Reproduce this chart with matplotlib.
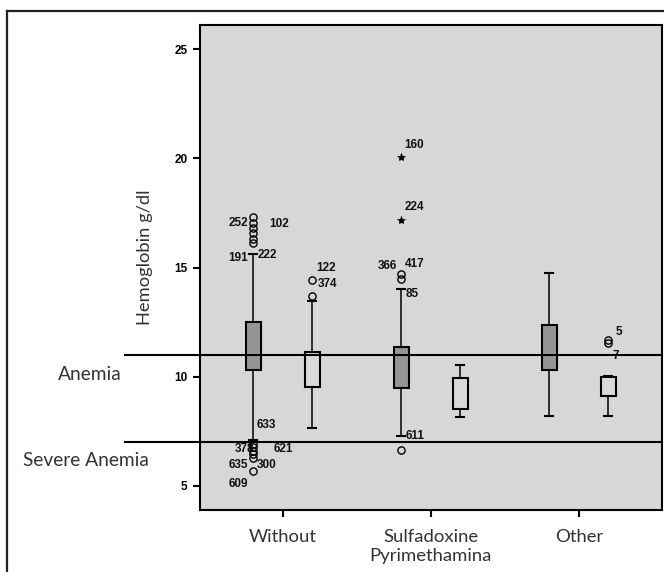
import matplotlib
matplotlib.use('Agg')
import matplotlib.pyplot as plt
from matplotlib.lines import Line2D

# ---------------- data ----------------
categories = ['Without', 'Sulfadoxine\nPyrimethamina', 'Other']
y_ticks = [5, 10, 15, 20, 25]
anemia_level = 11
severe_anemia_level = 7

# dark series
dark_q1 = [10.31, 9.50, 10.31]
dark_med = [11.30, 10.40, 11.30]
dark_q3 = [12.50, 11.36, 12.35]
dark_lo = [7.10, 7.28, 8.20]
dark_hi = [15.62, 14.03, 14.73]
dark_outliers = [[17.31, 17.04, 16.81, 16.58, 16.32, 16.10,
                  6.92, 6.78, 6.62, 6.46, 6.28, 5.70],
                 [14.68, 14.48, 6.64],
                 []]
dark_extremes = [[], [20.08, 17.19], []]

# light series
light_q1 = [9.55, 8.52, 9.12]
light_med = [10.30, 9.20, 9.60]
light_q3 = [11.13, 9.95, 9.97]
light_lo = [7.65, 8.15, 8.20]
light_hi = [13.47, 10.54, 10.03]
light_outliers = [[14.43, 13.70], [], [11.66, 11.56]]

# case labels: (series, group, value, text)
case_labels = [
    ('dark', 0, 17.31, '252'), ('dark', 0, 17.31, '102'),
    ('dark', 0, 15.62, '191'), ('dark', 0, 15.62, '222'),
    ('dark', 0, 7.10, '633'), ('dark', 0, 6.92, '378'),
    ('dark', 0, 6.92, '621'), ('dark', 0, 6.28, '635'),
    ('dark', 0, 6.28, '300'), ('dark', 0, 5.70, '609'),
    ('light', 0, 14.43, '122'), ('light', 0, 14.43, '374'),
    ('dark', 1, 20.08, '160'), ('dark', 1, 17.19, '224'),
    ('dark', 1, 14.68, '366'), ('dark', 1, 14.68, '417'),
    ('dark', 1, 14.03, '85'), ('dark', 1, 7.28, '611'),
    ('light', 2, 11.66, '5'), ('light', 2, 11.56, '7'),
]
# label offsets in pixels (style only)
label_offsets = [(-5, -6, 'right'), (16, -7, 'left'),
                 (-5, -4, 'right'), (4, -1, 'left'),
                 (3, 15, 'left'), (-18, -5, 'left'),
                 (20, -5, 'left'), (-5, -7, 'right'),
                 (4, -7, 'left'), (-5, -13, 'right'),
                 (4, 12, 'left'), (5, -4, 'left'),
                 (3, 12, 'left'), (3, 13, 'left'),
                 (-4, 8, 'right'), (4, 10, 'left'),
                 (4, -5, 'left'), (4, 0, 'left'),
                 (7, 8, 'left'), (4, -13, 'left')]

# ---------------- style ----------------
W, H = 664, 572
fig = plt.figure(figsize=(W / 100, H / 100), dpi=100)
fig.patch.set_facecolor('white')

ax_l, ax_r, ax_t, ax_b = 200, 661.5, 25, 510
ax = fig.add_axes([ax_l / W, 1 - ax_b / H, (ax_r - ax_l) / W, (ax_b - ax_t) / H])
ax.set_facecolor('#d7d7d7')
for s in ax.spines.values():
    s.set_linewidth(1.5)
    s.set_color('black')

offset = 0.2
box_w = 0.1
cap_w = 0.055
lw_box = 1.5
lw_wh = 1.1

def stats(q1, med, q3, lo, hi):
    return [dict(q1=a, med=m, q3=b, whislo=c, whishi=d, fliers=[])
            for a, m, b, c, d in zip(q1, med, q3, lo, hi)]

pos_dark = [i + 1 - offset for i in range(len(categories))]
pos_light = [i + 1 + offset for i in range(len(categories))]

for st, pos, fc in [(stats(dark_q1, dark_med, dark_q3, dark_lo, dark_hi), pos_dark, '#959595'),
                    (stats(light_q1, light_med, light_q3, light_lo, light_hi), pos_light, '#d9d9d9')]:
    ax.bxp(st, positions=pos, widths=box_w, capwidths=cap_w, patch_artist=True,
           showfliers=False,
           boxprops=dict(facecolor=fc, edgecolor='black', linewidth=lw_box),
           whiskerprops=dict(color='black', linewidth=lw_wh),
           capprops=dict(color='black', linewidth=1.5),
           medianprops=dict(visible=False), manage_ticks=False, zorder=3)

for pos, outs in [(pos_dark, dark_outliers), (pos_light, light_outliers)]:
    for p, vals in zip(pos, outs):
        if vals:
            ax.plot([p] * len(vals), vals, linestyle='none', marker='o', ms=5.2,
                    mfc='none', mec='black', mew=1.0, zorder=5)
for p, vals in zip(pos_dark, dark_extremes):
    if vals:
        ax.plot([p] * len(vals), vals, linestyle='none', marker='*', ms=6,
                mfc='black', mec='black', mew=0.5, zorder=5)

for (series, g, v, txt), (dx, dy, ha) in zip(case_labels, label_offsets):
    px = pos_dark[g] if series == 'dark' else pos_light[g]
    ax.annotate(txt, xy=(px, v), xytext=(dx, dy), textcoords='offset pixels',
                ha=ha, va='center', fontsize=8.5, fontweight='bold',
                family='Liberation Sans', color='#111111', zorder=4)

# reference lines extending left of the axes
trans = ax.get_yaxis_transform()
for lvl in [anemia_level, severe_anemia_level]:
    ax.plot([(125 - ax_l) / (ax_r - ax_l), 1.0], [lvl, lvl], transform=trans,
            color='black', linewidth=1.5, clip_on=False, zorder=6)

ax.set_xlim(0.441, 3.559)
ax.set_ylim(3.9, 26.1)
ax.set_xticks(range(1, len(categories) + 1))
ax.set_xticklabels(categories, family='Lato', fontsize=13.3, color='#333333',
                   linespacing=1.2)
ax.set_yticks(y_ticks)
ax.set_yticklabels([str(t) for t in y_ticks], family='Liberation Sans',
                   fontsize=8.5, fontweight='bold')
ax.tick_params(axis='both', direction='out', length=5, width=1.5, color='black')
ax.tick_params(axis='x', pad=9)
ax.tick_params(axis='y', pad=4)

fig.text(145 / W, 1 - 257 / H, 'Hemoglobin g/dl', rotation=90, ha='center',
         va='center', family='Lato', fontsize=13.2, color='#333333')
fig.text(90 / W, 1 - 375 / H, 'Anemia', ha='center', va='center',
         family='Lato', fontsize=13.8, color='#333333')
fig.text(86 / W, 1 - 461 / H, 'Severe Anemia', ha='center', va='center',
         family='Lato', fontsize=13.8, color='#333333')

# outer frame
fx = 6.5 / W
fy = 1 - 11 / H
fig.add_artist(Line2D([fx, fx], [0, fy], transform=fig.transFigure,
                      color='#222222', linewidth=1.6))
fig.add_artist(Line2D([fx, 1], [fy, fy], transform=fig.transFigure,
                      color='#222222', linewidth=1.6))

fig.savefig('out.png', dpi=100)
